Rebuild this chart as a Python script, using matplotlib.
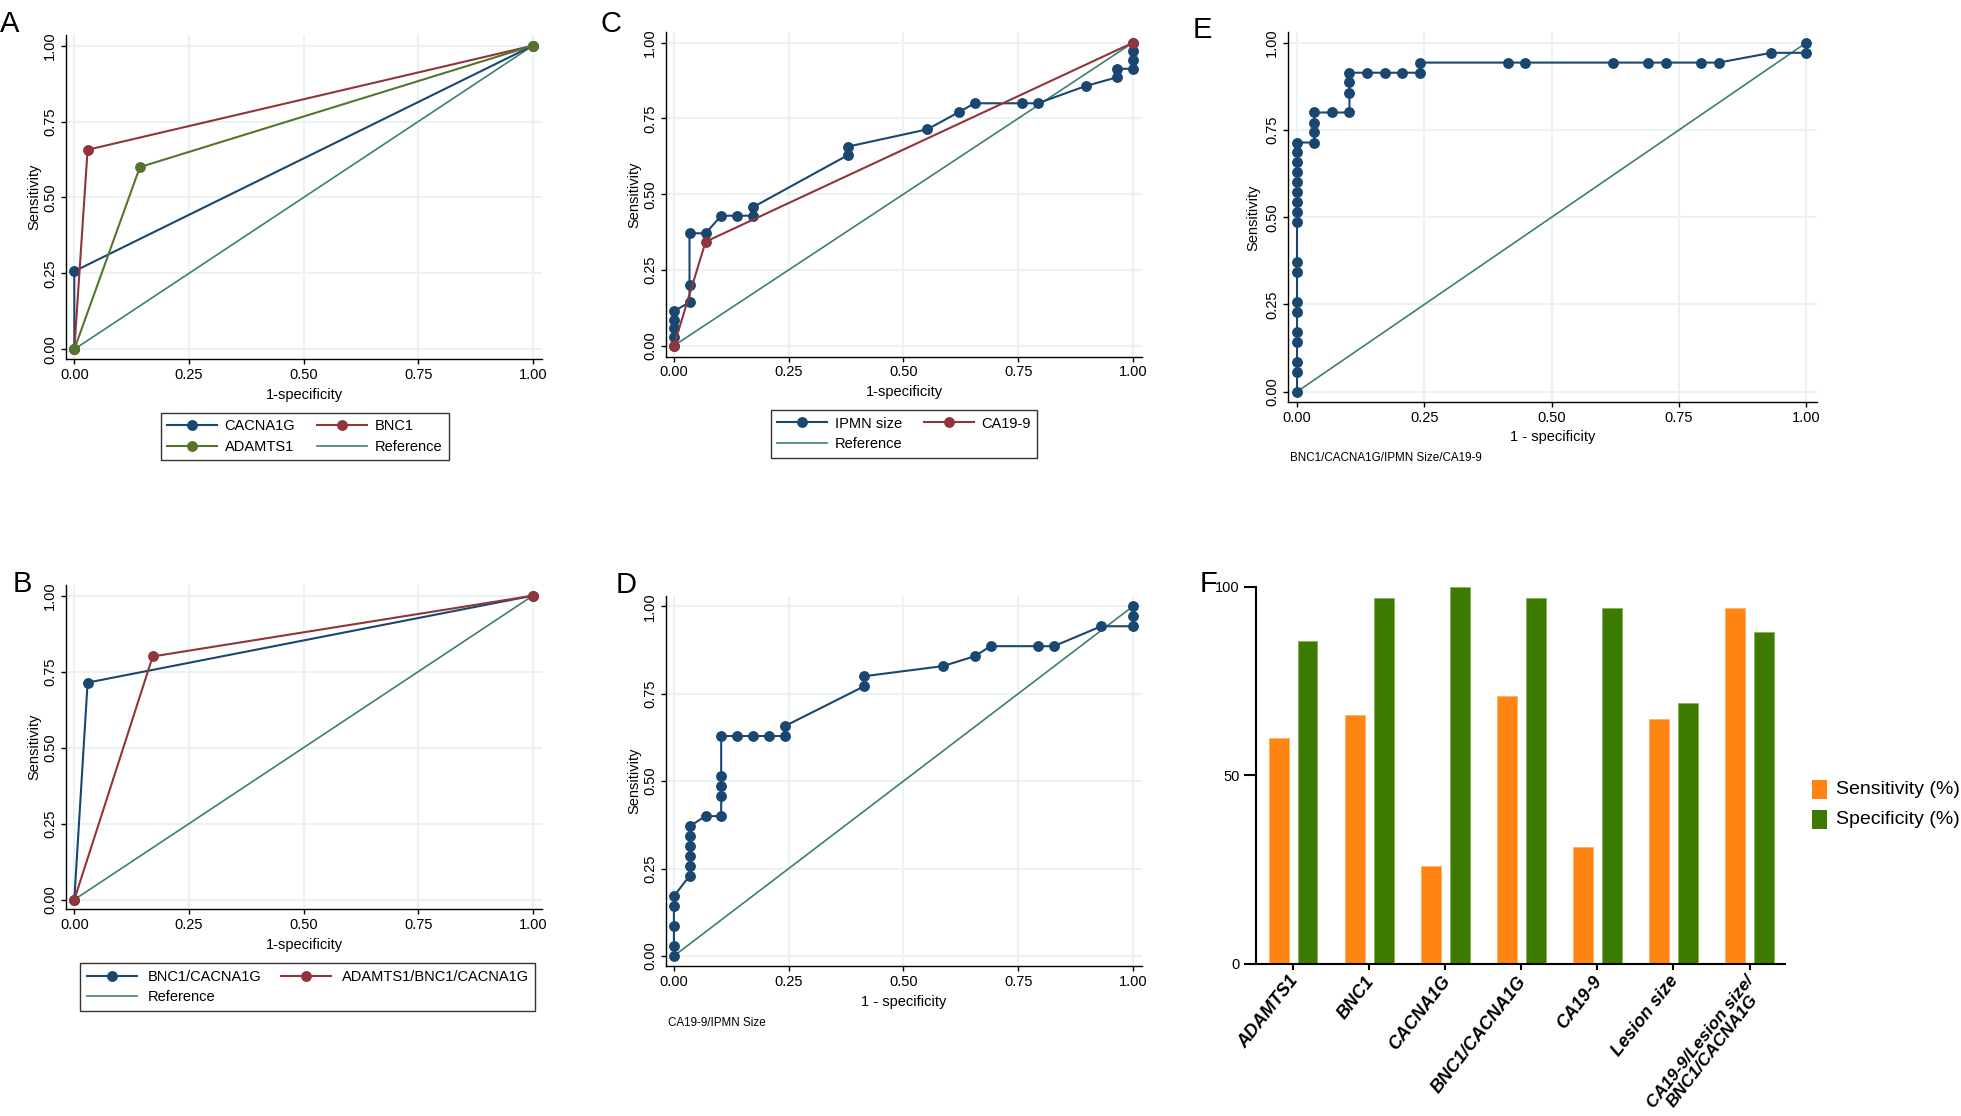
import matplotlib
matplotlib.use("Agg")
import numpy as np
import matplotlib.pyplot as plt
import matplotlib.transforms as mtransforms
from matplotlib import font_manager
from matplotlib.lines import Line2D
from matplotlib.patches import Rectangle

W, H = 1961, 1116

# Stata draws its labels in a narrow Helvetica; use Liberation Sans Narrow
# when it is there, otherwise plain Liberation Sans a little smaller.
HAVE_NARROW = any(f.name == "Liberation Sans Narrow"
                  for f in font_manager.fontManager.ttflist)
SANS = ["Liberation Sans", "DejaVu Sans"]
if HAVE_NARROW:
    plt.rcParams["font.family"] = ["Liberation Sans Narrow"] + SANS
    FS = 12
else:
    plt.rcParams["font.family"] = SANS
    FS = 10.5

NAVY = "#1a476f"
MAROON = "#90353b"
FOREST = "#55752f"
REFC = "#3e7f6f"
GRID = "#eaf2f3"
ORANGE = "#ff8412"
GREEN = "#3d7a00"

# --- data ---------------------------------------------------------------
# A: single markers
cacna1g_x = [0.0, 0.0, 1.0]
cacna1g_y = [0.0, 0.257, 1.0]
bnc1_x = [0.0, 0.029, 1.0]
bnc1_y = [0.0, 0.657, 1.0]
adamts1_x = [0.0, 0.143, 1.0]
adamts1_y = [0.0, 0.600, 1.0]

# B: marker combinations
pair_x = [0.0, 0.029, 1.0]
pair_y = [0.0, 0.714, 1.0]
triple_x = [0.0, 0.171, 1.0]
triple_y = [0.0, 0.800, 1.0]

# C: IPMN size and CA19-9
ipmn_x = [0.0, 0.0, 0.0, 0.0, 0.0, 0.034, 0.034, 0.034, 0.069, 0.103, 0.138,
          0.172, 0.172, 0.379, 0.379, 0.552, 0.621, 0.655, 0.759, 0.793,
          0.897, 0.966, 0.966, 1.0, 1.0, 1.0, 1.0]
ipmn_y = [0.0, 0.029, 0.057, 0.086, 0.114, 0.143, 0.200, 0.371, 0.371, 0.429,
          0.429, 0.429, 0.457, 0.629, 0.657, 0.714, 0.771, 0.800, 0.800,
          0.800, 0.857, 0.886, 0.914, 0.914, 0.943, 0.971, 1.0]
ca199_x = [0.0, 0.069, 1.0]
ca199_y = [0.0, 0.343, 1.0]

# D: CA19-9/IPMN size
d_x = [0.0, 0.0, 0.0, 0.0, 0.0, 0.034, 0.034, 0.034, 0.034, 0.034, 0.034,
       0.069, 0.103, 0.103, 0.103, 0.103, 0.103, 0.138, 0.172, 0.207, 0.241,
       0.241, 0.414, 0.414, 0.586, 0.655, 0.690, 0.793, 0.828, 0.931, 1.0,
       1.0, 1.0]
d_y = [0.0, 0.029, 0.086, 0.143, 0.171, 0.229, 0.257, 0.286, 0.314, 0.343,
       0.371, 0.400, 0.400, 0.457, 0.486, 0.514, 0.629, 0.629, 0.629, 0.629,
       0.629, 0.657, 0.771, 0.800, 0.829, 0.857, 0.886, 0.886, 0.886, 0.943,
       0.943, 0.971, 1.0]

# E: BNC1/CACNA1G/IPMN size/CA19-9
e_x = [0.0] * 18 + [0.034, 0.034, 0.034, 0.034, 0.069, 0.103, 0.103, 0.103,
                    0.103, 0.138, 0.172, 0.207, 0.241, 0.241, 0.414, 0.448,
                    0.621, 0.690, 0.724, 0.793, 0.828, 0.931, 1.0, 1.0]
e_y = [0.0, 0.057, 0.086, 0.143, 0.171, 0.229, 0.257, 0.343, 0.371, 0.486,
       0.514, 0.543, 0.571, 0.600, 0.629, 0.657, 0.686, 0.714,
       0.714, 0.743, 0.771, 0.800, 0.800, 0.800, 0.857, 0.886, 0.914, 0.914,
       0.914, 0.914, 0.914, 0.943, 0.943, 0.943, 0.943, 0.943, 0.943, 0.943,
       0.943, 0.971, 0.971, 1.0]

# F: bar chart
bar_labels = ["ADAMTS1", "BNC1", "CACNA1G", "BNC1/CACNA1G", "CA19-9",
              "Lesion size", "CA19-9/Lesion size/\nBNC1/CACNA1G"]
sensitivity = [60.0, 66.0, 26.0, 71.0, 31.0, 65.0, 94.2]
specificity = [85.7, 97.1, 100.0, 97.1, 94.3, 69.1, 88.0]

TICKS = [0, 0.25, 0.5, 0.75, 1.0]
TICK_LABELS = ["0.00", "0.25", "0.50", "0.75", "1.00"]

fig = plt.figure(figsize=(W / 100, H / 100), dpi=100)


def px_rect(left, top, right, bottom):
    return [left / W, 1 - bottom / H, (right - left) / W, (bottom - top) / H]


def roc_axes(rect, xlim, ylim, xlabel, xlabel_y):
    ax = fig.add_axes(px_rect(*rect))
    ax.set_xlim(*xlim)
    ax.set_ylim(*ylim)
    ax.set_xticks(TICKS, TICK_LABELS)
    ax.set_yticks(TICKS, TICK_LABELS)
    ax.tick_params(length=3.8, width=1.0, labelsize=FS, pad=2.5)
    ax.tick_params(axis="y", labelrotation=90)
    for lab in ax.get_yticklabels():
        lab.set_verticalalignment("center")
    ax.grid(True, color=GRID, lw=1.5)
    ax.set_axisbelow(True)
    for s in ("top", "right"):
        ax.spines[s].set_visible(False)
    for s in ("left", "bottom"):
        ax.spines[s].set_linewidth(1.0)
    ax.set_xlabel(xlabel, fontsize=FS)
    ax.xaxis.set_label_coords(0.5, xlabel_y)
    ax.set_ylabel("Sensitivity", fontsize=FS)
    ax.yaxis.set_label_coords(-0.053, 0.5)
    ax.plot([0, 1], [0, 1], color=REFC, lw=1.2, zorder=2)
    return ax


def curve(ax, x, y, color):
    ax.plot(x, y, color=color, lw=1.5, marker="o", ms=6.8, zorder=3,
            clip_on=False)


def handle(color, marker=True):
    return Line2D([], [], color=color, lw=1.5 if marker else 1.2,
                  marker="o" if marker else None, ms=6.8)


def roc_legend(ax, handles, labels, left, top, colsp, textpad):
    leg = ax.legend(handles, labels, ncol=2, loc="upper left",
                    bbox_to_anchor=(left / W, 1 - top / H),
                    bbox_transform=fig.transFigure, borderaxespad=0,
                    frameon=True, fancybox=False, edgecolor="black",
                    fontsize=FS, handlelength=50 / (FS * 100 / 72),
                    handletextpad=textpad, columnspacing=colsp,
                    labelspacing=0.45, borderpad=0.45)
    leg.get_frame().set_linewidth(1.0)


# --- A ------------------------------------------------------------------
axA = roc_axes((66.1, 35, 541.8, 359.3), (-0.0179, 1.0194), (-0.033, 1.035),
               "1-specificity", -0.089)
curve(axA, cacna1g_x, cacna1g_y, NAVY)
curve(axA, bnc1_x, bnc1_y, MAROON)
curve(axA, adamts1_x, adamts1_y, FOREST)
roc_legend(axA, [handle(NAVY), handle(FOREST), handle(MAROON), handle(REFC, False)],
           ["CACNA1G", "ADAMTS1", "BNC1", "Reference"], 160.7, 412.7, 1.5, 0.5)

# --- C ------------------------------------------------------------------
axC = roc_axes((666.1, 32.3, 1141.8, 356.7), (-0.017, 1.0194), (-0.0363, 1.0343),
               "1-specificity", -0.087)
curve(axC, ipmn_x, ipmn_y, NAVY)
curve(axC, ca199_x, ca199_y, MAROON)
roc_legend(axC, [handle(NAVY), handle(REFC, False), handle(MAROON)],
           ["IPMN size", "Reference", "CA19-9"], 770.7, 410, 1.5, 0.5)

# --- E ------------------------------------------------------------------
axE = roc_axes((1288, 32.3, 1816.5, 402.3), (-0.0177, 1.02), (-0.0304, 1.0298),
               "1 - specificity", -0.075)
curve(axE, e_x, e_y, NAVY)
fig.text(1290 / W, 1 - 458.3 / H, "BNC1/CACNA1G/IPMN Size/CA19-9",
         fontsize=FS * 0.8, ha="left", va="center")

# --- B ------------------------------------------------------------------
axB = roc_axes((66.1, 585, 541.8, 909.3), (-0.0179, 1.0194), (-0.0316, 1.035),
               "1-specificity", -0.089)
curve(axB, pair_x, pair_y, NAVY)
curve(axB, triple_x, triple_y, MAROON)
roc_legend(axB, [handle(NAVY), handle(REFC, False), handle(MAROON)],
           ["BNC1/CACNA1G", "Reference", "ADAMTS1/BNC1/CACNA1G"],
           80.4, 963.3, 1.3, 0.75)

# --- D ------------------------------------------------------------------
axD = roc_axes((666.1, 596, 1141.8, 966), (-0.017, 1.0194), (-0.0286, 1.0295),
               "1 - specificity", -0.078)
curve(axD, d_x, d_y, NAVY)
fig.text(667.9 / W, 1 - 1022.7 / H, "CA19-9/IPMN Size",
         fontsize=FS * 0.8, ha="left", va="center")

# --- F ------------------------------------------------------------------
axF = fig.add_axes(px_rect(1256.4, 586.6, 1784.9, 963.9))
xpos = np.arange(len(bar_labels))
bw = 0.258
axF.bar(xpos - 0.19, sensitivity, bw, color=ORANGE, edgecolor="#ffb062", lw=0.6)
axF.bar(xpos + 0.19, specificity, bw, color=GREEN, edgecolor="#86b356", lw=0.6)
axF.set_xlim(-0.484, 6.465)
axF.set_ylim(0, 100)
axF.set_yticks([0, 50, 100])
axF.tick_params(axis="y", length=9, width=1.5, labelsize=FS, pad=3.0)
axF.set_xticks(xpos)
axF.set_xticklabels(bar_labels, rotation=52, ha="right", va="top",
                    rotation_mode="anchor", fontsize=13, fontweight="bold",
                    fontstyle="italic", family=SANS, multialignment="center",
                    linespacing=1.0)
axF.tick_params(axis="x", length=4, width=1.5, pad=2.5)
shift = mtransforms.ScaledTranslation(-5 / 100, 0, fig.dpi_scale_trans)
for lab in axF.get_xticklabels():
    lab.set_transform(lab.get_transform() + shift)
axF.get_xticklabels()[-1].set_fontsize(12.5)
for s in ("top", "right"):
    axF.spines[s].set_visible(False)
for s in ("left", "bottom"):
    axF.spines[s].set_linewidth(1.5)

# legend of F drawn as two swatches
for i, (lab, col) in enumerate([("Sensitivity (%)", ORANGE),
                                ("Specificity (%)", GREEN)]):
    top = 779.5 + i * 30.0
    fig.add_artist(Rectangle((1811.9 / W, 1 - (top + 19) / H), 14.8 / W, 19 / H,
                             transform=fig.transFigure, facecolor=col,
                             edgecolor="none"))
    fig.text(1836.5 / W, 1 - (top + 10) / H, lab, fontsize=14, ha="left",
             va="center", family=SANS)

# --- panel letters ------------------------------------------------------
letters = [("A", 0, 31.7), ("C", 600, 31.7), ("E", 1193, 38.3),
           ("B", 12.5, 592), ("D", 616, 593.3), ("F", 1200, 591.7)]
for txt, x, y in letters:
    fig.text(x / W, 1 - y / H, txt, fontsize=21, ha="left", va="baseline",
             family=SANS)

fig.savefig("out.png", dpi=100)
